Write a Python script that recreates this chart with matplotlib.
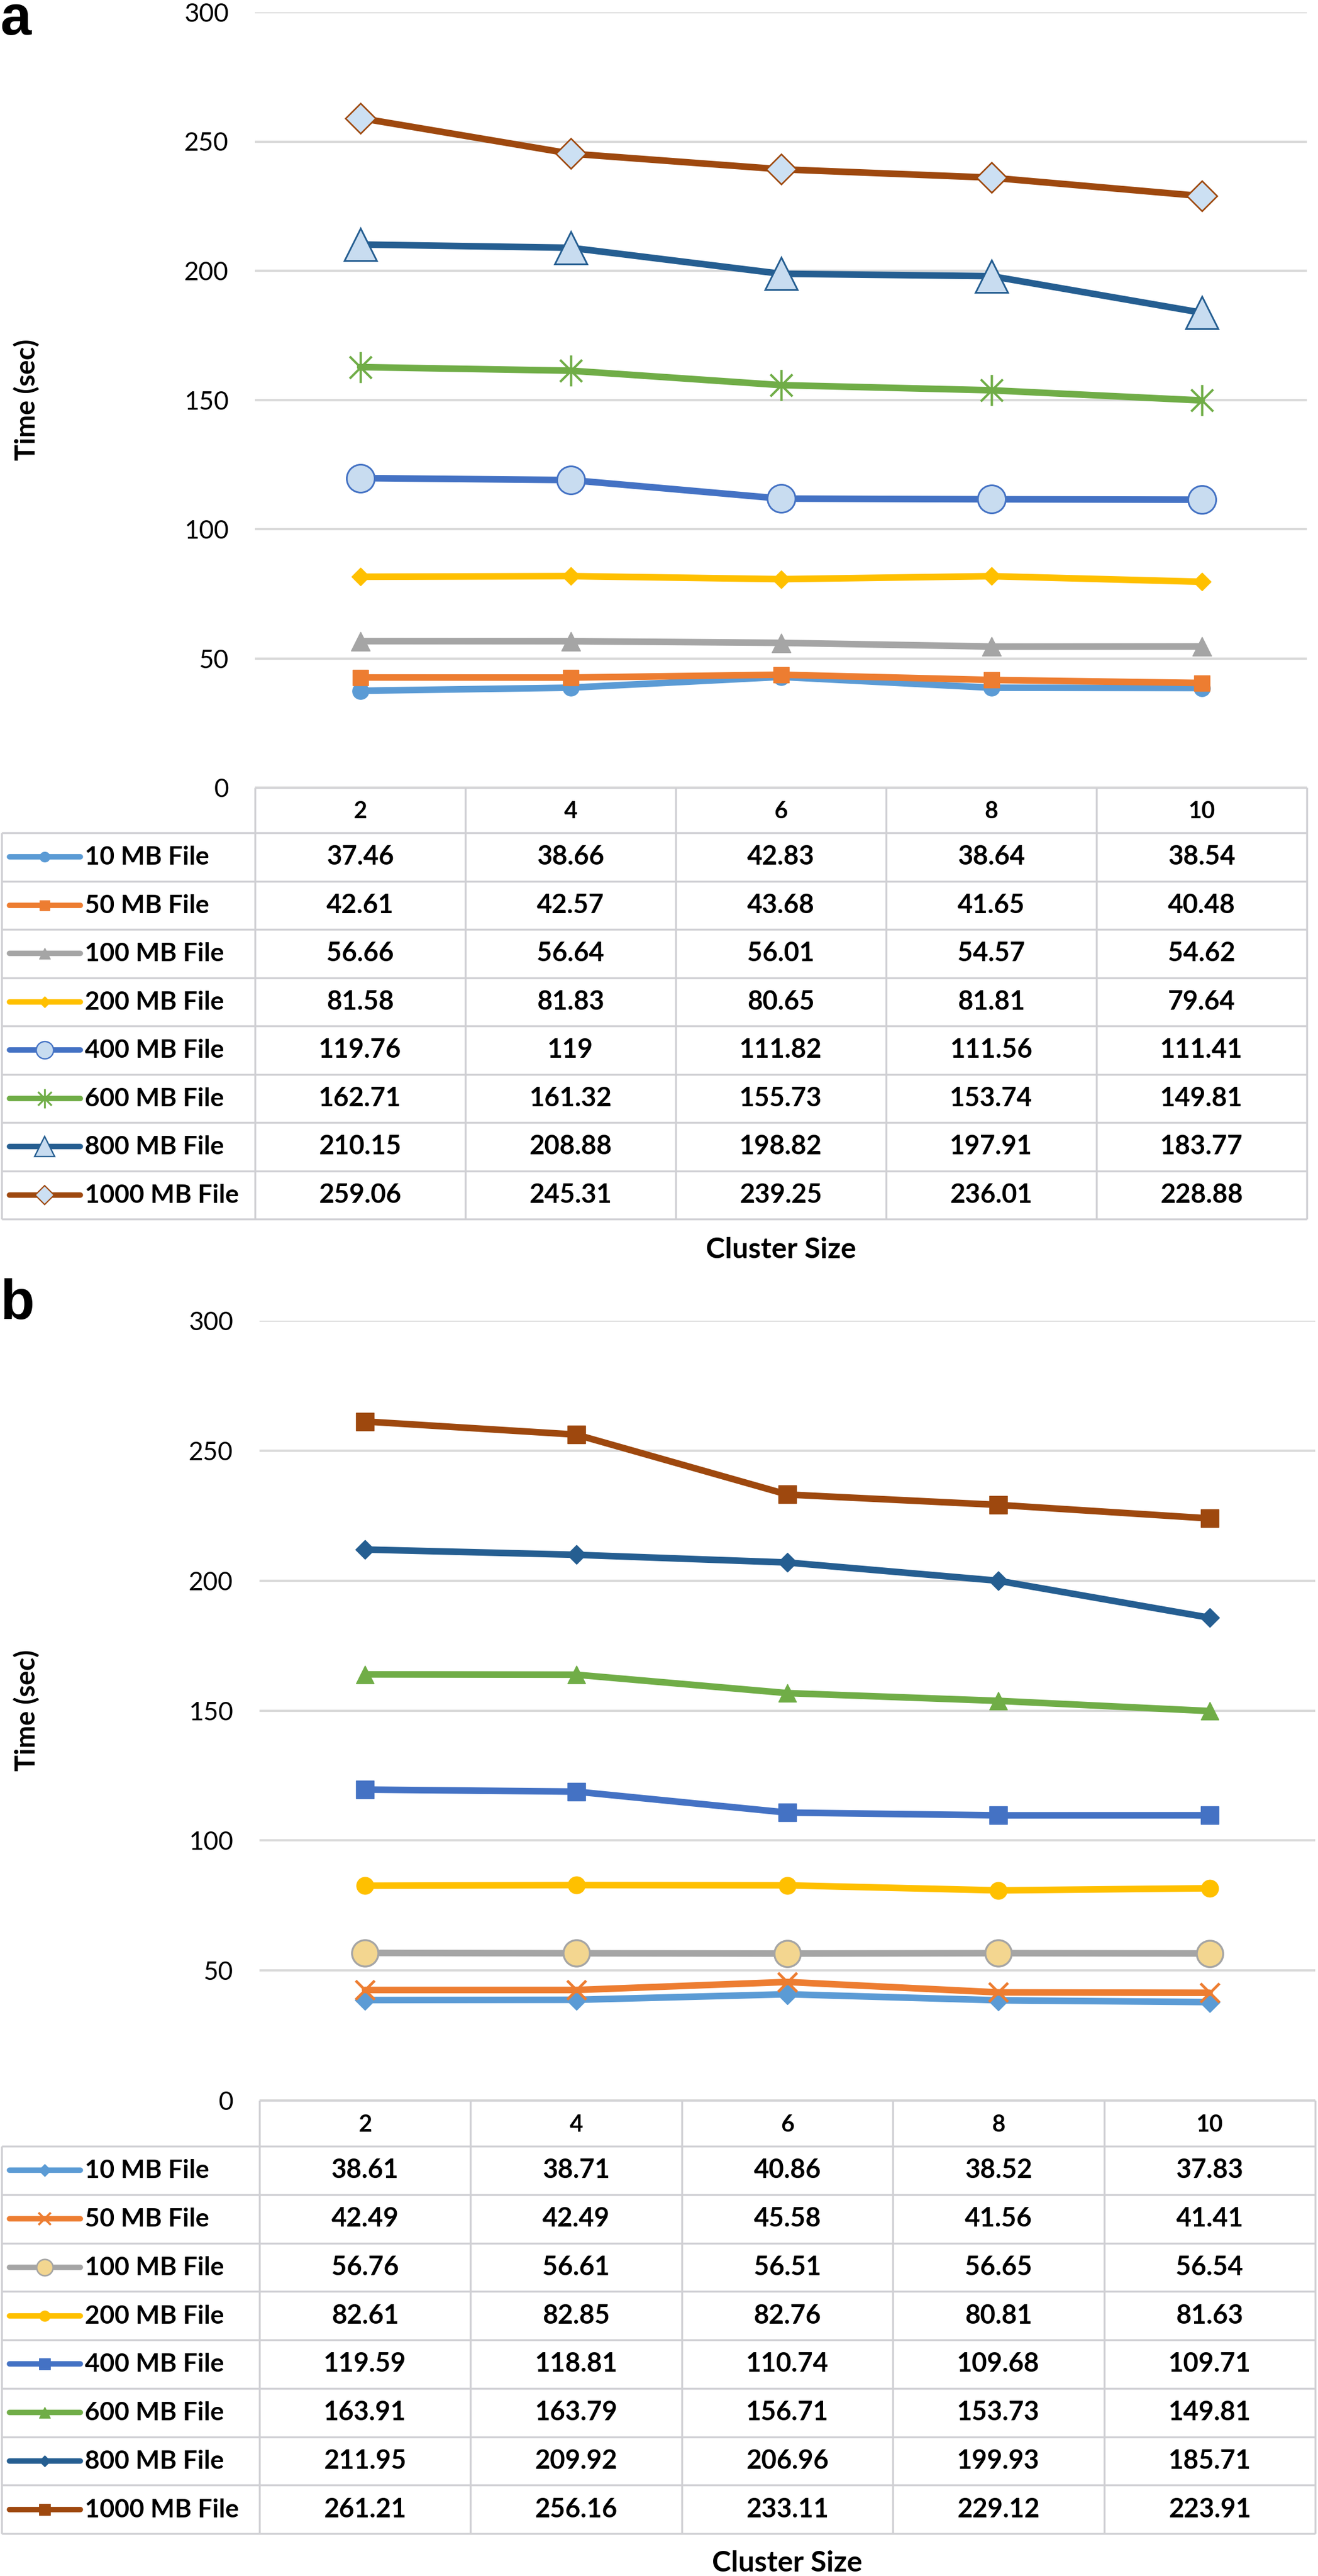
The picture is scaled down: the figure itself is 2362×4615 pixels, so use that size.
import numpy as np
import matplotlib
matplotlib.use('Agg')
import matplotlib.pyplot as plt
from matplotlib.path import Path

# ==== data ====
cluster = [2, 4, 6, 8, 10]
files = ['10 MB File', '50 MB File', '100 MB File', '200 MB File',
         '400 MB File', '600 MB File', '800 MB File', '1000 MB File']

# panel a: time (sec) per file size
a_10 = [37.46, 38.66, 42.83, 38.64, 38.54]
a_50 = [42.61, 42.57, 43.68, 41.65, 40.48]
a_100 = [56.66, 56.64, 56.01, 54.57, 54.62]
a_200 = [81.58, 81.83, 80.65, 81.81, 79.64]
a_400 = [119.76, 119, 111.82, 111.56, 111.41]
a_600 = [162.71, 161.32, 155.73, 153.74, 149.81]
a_800 = [210.15, 208.88, 198.82, 197.91, 183.77]
a_1000 = [259.06, 245.31, 239.25, 236.01, 228.88]

# panel b: time (sec) per file size
b_10 = [38.61, 38.71, 40.86, 38.52, 37.83]
b_50 = [42.49, 42.49, 45.58, 41.56, 41.41]
b_100 = [56.76, 56.61, 56.51, 56.65, 56.54]
b_200 = [82.61, 82.85, 82.76, 80.81, 81.63]
b_400 = [119.59, 118.81, 110.74, 109.68, 109.71]
b_600 = [163.91, 163.79, 156.71, 153.73, 149.81]
b_800 = [211.95, 209.92, 206.96, 199.93, 185.71]
b_1000 = [261.21, 256.16, 233.11, 229.12, 223.91]

yticks = [0, 50, 100, 150, 200, 250, 300]

# ==== styles ====
colors = ['#5B9BD5', '#ED7D31', '#A5A5A5', '#FFC000',
          '#4472C4', '#70AD47', '#255E91', '#9E480E']

star = Path([(0, -1), (0, 1), (-0.71, -0.71), (0.71, 0.71), (-0.71, 0.71), (0.71, -0.71)],
            [Path.MOVETO, Path.LINETO, Path.MOVETO, Path.LINETO, Path.MOVETO, Path.LINETO])

mark_a = ['o', 's', '^', 'D', 'o', star, '^', 'D']
size_a = [21, 20, 24, 16, 36, 40, 42, 28]
face_a = [None, None, None, None, '#C8DCF0', 'none', '#C8DCF0', '#CCE0F3']
mew_a = [1, 1, 1, 1, 2.2, 3, 2.2, 2]

mark_b = ['D', 'x', 'o', 'o', 's', '^', 'D', 's']
size_b = [18, 25, 34, 22, 23, 23, 17, 23]
face_b = [None, None, '#F3D690', None, None, None, None, None]
mew_b = [1, 3.5, 2.5, 1, 1, 1, 1, 1]

W, H = 2362, 4615
lay_a = dict(top=22, zero=1411, left=457, right=2342, hdr=1492, row=86.5,
             xlab=2254, tag=62, ylab=48)
lay_b = dict(top=2366, zero=3763, left=465, right=2357, hdr=3845, row=86.75,
             xlab=4607, tag=2363, ylab=48)

grid_c = '#D9D9D9'
tab_c = '#D0D0D4'
font = 'Lato'

fig = plt.figure(figsize=(W / 100, H / 100), dpi=100)
fig.patch.set_facecolor('white')

ov = fig.add_axes([0, 0, 1, 1], zorder=0)
ov.set_xlim(0, W)
ov.set_ylim(H, 0)
ov.axis('off')


def panel(lay, data, mark, size, face, mew, tag):
    ax = fig.add_axes([lay['left'] / W, 1 - lay['zero'] / H,
                       (lay['right'] - lay['left']) / W,
                       (lay['zero'] - lay['top']) / H], zorder=2)
    ax.patch.set_alpha(0)
    x = np.arange(len(cluster))
    for ii, vals in enumerate(data):
        c = colors[ii]
        fc = c if face[ii] is None else face[ii]
        ax.plot(x, vals, color=c, lw=8.5, solid_capstyle='round',
                solid_joinstyle='round', marker=mark[ii], ms=size[ii],
                mfc=fc, mec=c, mew=mew[ii], clip_on=False)
    ax.set_xlim(-0.5, len(cluster) - 0.5)
    ax.set_ylim(0, 300)
    ax.set_yticks(yticks)
    ax.set_xticks([])
    ax.yaxis.grid(True, color=grid_c, lw=2.9)
    ax.set_axisbelow(True)
    for s in ax.spines.values():
        s.set_visible(False)
    ax.tick_params(axis='y', length=0, pad=34, labelsize=33)
    for lab in ax.get_yticklabels():
        lab.set_fontfamily(font)

    # data table under the plot
    x0, x1 = lay['left'], lay['right']
    top, hb, rh = lay['zero'], lay['hdr'], lay['row']
    cw = (x1 - x0) / len(cluster)
    bottom = hb + rh * len(files)
    kw = dict(color=tab_c, lw=2.5, solid_capstyle='butt')
    ov.plot([x0, x1], [top, top], **kw)
    for i in range(len(files) + 1):
        ov.plot([3, x1], [hb + i * rh] * 2, **kw)
    for j in range(len(cluster) + 1):
        ov.plot([x0 + j * cw] * 2, [top, bottom], **kw)
    ov.plot([3, 3], [hb, bottom], **kw)

    for j, c in enumerate(cluster):
        ov.text(x0 + (j + 0.5) * cw, (top + hb) / 2 + 15, str(c), ha='center',
                va='baseline', fontsize=30, fontweight='bold', family=font)
    for i, f in enumerate(files):
        yc = hb + (i + 0.5) * rh
        c = colors[i]
        fc = c if face[i] is None else face[i]
        ov.plot([17, 144], [yc, yc], color=c, lw=7, solid_capstyle='round')
        ov.plot([80], [yc], color=c, marker=mark[i], ms=size[i] * 0.62,
                mfc=fc, mec=c, mew=mew[i] * 0.8)
        ov.text(152, yc + 14, f, ha='left', va='baseline', fontsize=33,
                fontweight='bold', family=font)
        for j, v in enumerate(data[i]):
            ov.text(x0 + (j + 0.5) * cw, yc + 14, f'{v:g}', ha='center',
                    va='baseline', fontsize=34, fontweight='bold', family=font)

    ov.text((x0 + x1) / 2, lay['xlab'], 'Cluster Size', ha='center',
            va='baseline', fontsize=37, fontweight='bold', family=font)
    ov.text(lay['ylab'], (lay['top'] + lay['zero']) / 2, 'Time (sec)',
            rotation=90, ha='center', va='center', fontsize=35,
            fontweight='bold', family=font)
    ov.text(0, lay['tag'], tag, ha='left', va='baseline', fontsize=72,
            fontweight='bold', family='Liberation Sans')


panel(lay_a, [a_10, a_50, a_100, a_200, a_400, a_600, a_800, a_1000],
      mark_a, size_a, face_a, mew_a, 'a')
panel(lay_b, [b_10, b_50, b_100, b_200, b_400, b_600, b_800, b_1000],
      mark_b, size_b, face_b, mew_b, 'b')

fig.savefig('out.png', dpi=100, facecolor='white')
